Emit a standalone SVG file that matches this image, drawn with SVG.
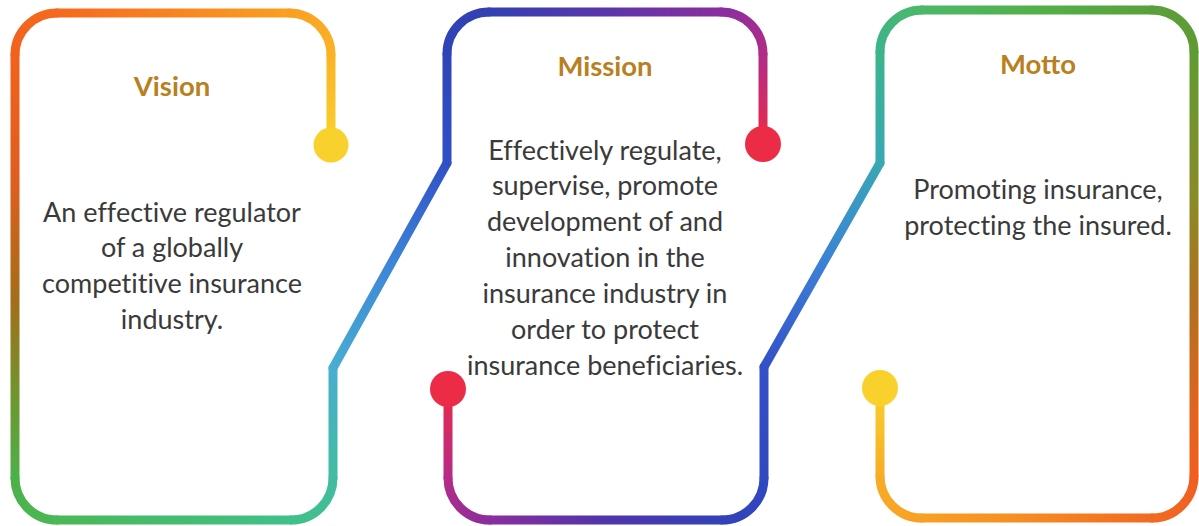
<svg xmlns="http://www.w3.org/2000/svg" width="1199" height="526" viewBox="0 0 1199 526">
  <style>
    .ln { fill: none; stroke-width: 9; stroke-linecap: round; }
    .title { font-family: Lato, "Open Sans", sans-serif; font-weight: 700; font-size: 27.5px; fill: #B8801E; text-anchor: middle; }
    .body { font-family: Lato, "Open Sans", sans-serif; font-size: 27px; fill: #3A3A3A; text-anchor: middle; font-variant-ligatures: none; font-feature-settings: "liga" 0; }
  </style>
  <defs>
    <!-- path A: Vision dot -> Vision frame -> link -> Mission top -> Mission dot -->
    <linearGradient id="a1" gradientUnits="userSpaceOnUse" x1="331" y1="145" x2="331" y2="55"><stop offset="0" stop-color="#F8D12C"/><stop offset="1" stop-color="#FBB326"/></linearGradient>
    <linearGradient id="a2" gradientUnits="userSpaceOnUse" x1="331" y1="55" x2="289" y2="13"><stop offset="0" stop-color="#FBB326"/><stop offset="1" stop-color="#F9A022"/></linearGradient>
    <linearGradient id="a3" gradientUnits="userSpaceOnUse" x1="289" y1="13" x2="57" y2="13"><stop offset="0" stop-color="#F9A022"/><stop offset="1" stop-color="#F5691E"/></linearGradient>
    <linearGradient id="a4" gradientUnits="userSpaceOnUse" x1="57" y1="13" x2="15" y2="55"><stop offset="0" stop-color="#F5691E"/><stop offset="1" stop-color="#F1621E"/></linearGradient>
    <linearGradient id="a5" gradientUnits="userSpaceOnUse" x1="15" y1="55" x2="15" y2="478">
      <stop offset="0" stop-color="#F1621E"/><stop offset="0.3" stop-color="#DE5E1E"/><stop offset="0.58" stop-color="#A26E1A"/><stop offset="0.82" stop-color="#6C9830"/><stop offset="1" stop-color="#4CB04A"/>
    </linearGradient>
    <linearGradient id="a6" gradientUnits="userSpaceOnUse" x1="15" y1="478" x2="57" y2="520"><stop offset="0" stop-color="#4CB04A"/><stop offset="1" stop-color="#4AB855"/></linearGradient>
    <linearGradient id="a7" gradientUnits="userSpaceOnUse" x1="57" y1="520" x2="291" y2="520"><stop offset="0" stop-color="#4AB855"/><stop offset="1" stop-color="#40C08A"/></linearGradient>
    <linearGradient id="a8" gradientUnits="userSpaceOnUse" x1="291" y1="520" x2="333" y2="478"><stop offset="0" stop-color="#40C08A"/><stop offset="1" stop-color="#42BCA0"/></linearGradient>
    <linearGradient id="a9" gradientUnits="userSpaceOnUse" x1="333" y1="478" x2="333" y2="368"><stop offset="0" stop-color="#42BCA0"/><stop offset="1" stop-color="#48AED0"/></linearGradient>
    <linearGradient id="a10" gradientUnits="userSpaceOnUse" x1="333" y1="368" x2="447" y2="163"><stop offset="0" stop-color="#48AED0"/><stop offset="0.5" stop-color="#3E86D8"/><stop offset="1" stop-color="#3050C6"/></linearGradient>
    <linearGradient id="a11" gradientUnits="userSpaceOnUse" x1="447" y1="163" x2="447" y2="54"><stop offset="0" stop-color="#3050C6"/><stop offset="1" stop-color="#2F44B8"/></linearGradient>
    <linearGradient id="a12" gradientUnits="userSpaceOnUse" x1="447" y1="54" x2="489" y2="12"><stop offset="0" stop-color="#2F44B8"/><stop offset="1" stop-color="#3340B2"/></linearGradient>
    <linearGradient id="a13" gradientUnits="userSpaceOnUse" x1="489" y1="12" x2="721" y2="12"><stop offset="0" stop-color="#3340B2"/><stop offset="0.5" stop-color="#5A36AA"/><stop offset="1" stop-color="#8A2E9E"/></linearGradient>
    <linearGradient id="a14" gradientUnits="userSpaceOnUse" x1="721" y1="12" x2="763" y2="54"><stop offset="0" stop-color="#8A2E9E"/><stop offset="1" stop-color="#B02C88"/></linearGradient>
    <linearGradient id="a15" gradientUnits="userSpaceOnUse" x1="763" y1="54" x2="763" y2="144"><stop offset="0" stop-color="#B02C88"/><stop offset="1" stop-color="#EC2A48"/></linearGradient>

    <!-- path B: Mission dot -> Mission bottom -> link -> Motto frame -> Motto dot -->
    <linearGradient id="b1" gradientUnits="userSpaceOnUse" x1="448" y1="389" x2="448" y2="478"><stop offset="0" stop-color="#EC2A48"/><stop offset="1" stop-color="#B42C86"/></linearGradient>
    <linearGradient id="b2" gradientUnits="userSpaceOnUse" x1="448" y1="478" x2="490" y2="520"><stop offset="0" stop-color="#B42C86"/><stop offset="1" stop-color="#8A2E9E"/></linearGradient>
    <linearGradient id="b3" gradientUnits="userSpaceOnUse" x1="490" y1="520" x2="722" y2="520"><stop offset="0" stop-color="#8A2E9E"/><stop offset="0.5" stop-color="#5034AC"/><stop offset="1" stop-color="#3342B8"/></linearGradient>
    <linearGradient id="b4" gradientUnits="userSpaceOnUse" x1="722" y1="520" x2="764" y2="478"><stop offset="0" stop-color="#3342B8"/><stop offset="1" stop-color="#3048C0"/></linearGradient>
    <linearGradient id="b5" gradientUnits="userSpaceOnUse" x1="764" y1="478" x2="764" y2="367"><stop offset="0" stop-color="#3048C0"/><stop offset="1" stop-color="#3450C8"/></linearGradient>
    <linearGradient id="b6" gradientUnits="userSpaceOnUse" x1="764" y1="367" x2="880" y2="163"><stop offset="0" stop-color="#3450C8"/><stop offset="0.5" stop-color="#3C80D6"/><stop offset="1" stop-color="#38A8B4"/></linearGradient>
    <linearGradient id="b7" gradientUnits="userSpaceOnUse" x1="880" y1="163" x2="880" y2="52"><stop offset="0" stop-color="#38A8B4"/><stop offset="1" stop-color="#3DB48C"/></linearGradient>
    <linearGradient id="b8" gradientUnits="userSpaceOnUse" x1="880" y1="52" x2="922" y2="10"><stop offset="0" stop-color="#3DB48C"/><stop offset="1" stop-color="#4BB868"/></linearGradient>
    <linearGradient id="b9" gradientUnits="userSpaceOnUse" x1="922" y1="10" x2="1152" y2="10"><stop offset="0" stop-color="#4BB868"/><stop offset="0.5" stop-color="#52B048"/><stop offset="1" stop-color="#5AA03A"/></linearGradient>
    <linearGradient id="b10" gradientUnits="userSpaceOnUse" x1="1152" y1="10" x2="1194" y2="52"><stop offset="0" stop-color="#5AA03A"/><stop offset="1" stop-color="#609A34"/></linearGradient>
    <linearGradient id="b11" gradientUnits="userSpaceOnUse" x1="1194" y1="52" x2="1194" y2="476">
      <stop offset="0" stop-color="#609A34"/><stop offset="0.35" stop-color="#8A8A28"/><stop offset="0.58" stop-color="#B07020"/><stop offset="0.85" stop-color="#E06520"/><stop offset="1" stop-color="#F05E22"/>
    </linearGradient>
    <linearGradient id="b12" gradientUnits="userSpaceOnUse" x1="1194" y1="476" x2="1152" y2="518"><stop offset="0" stop-color="#F05E22"/><stop offset="1" stop-color="#F26A22"/></linearGradient>
    <linearGradient id="b13" gradientUnits="userSpaceOnUse" x1="1152" y1="518" x2="922" y2="518"><stop offset="0" stop-color="#F26A22"/><stop offset="0.6" stop-color="#F68E22"/><stop offset="1" stop-color="#F8A024"/></linearGradient>
    <linearGradient id="b14" gradientUnits="userSpaceOnUse" x1="922" y1="518" x2="880" y2="476"><stop offset="0" stop-color="#F8A024"/><stop offset="1" stop-color="#F8AC26"/></linearGradient>
    <linearGradient id="b15" gradientUnits="userSpaceOnUse" x1="880" y1="476" x2="880" y2="388"><stop offset="0" stop-color="#F8AC26"/><stop offset="1" stop-color="#F8D12C"/></linearGradient>
  </defs>

  <rect width="1199" height="526" fill="#FFFFFF"/>

  <!-- frame lines, drawn piece by piece so the colour runs along the path -->
  <g id="connectors">
    <g id="line-a">
      <path class="ln" stroke="url(#a1)" d="M331 145 V55"/>
      <path class="ln" stroke="url(#a2)" d="M331 55 A42 42 0 0 0 289 13"/>
      <path class="ln" stroke="url(#a3)" d="M289 13 H57"/>
      <path class="ln" stroke="url(#a4)" d="M57 13 A42 42 0 0 0 15 55"/>
      <path class="ln" stroke="url(#a5)" d="M15 55 V478"/>
      <path class="ln" stroke="url(#a6)" d="M15 478 A42 42 0 0 0 57 520"/>
      <path class="ln" stroke="url(#a7)" d="M57 520 H291"/>
      <path class="ln" stroke="url(#a8)" d="M291 520 A42 42 0 0 0 333 478"/>
      <path class="ln" stroke="url(#a9)" d="M333 478 V368"/>
      <path class="ln" stroke="url(#a10)" d="M333 368 L447 163"/>
      <path class="ln" stroke="url(#a11)" d="M447 163 V54"/>
      <path class="ln" stroke="url(#a12)" d="M447 54 A42 42 0 0 1 489 12"/>
      <path class="ln" stroke="url(#a13)" d="M489 12 H721"/>
      <path class="ln" stroke="url(#a14)" d="M721 12 A42 42 0 0 1 763 54"/>
      <path class="ln" stroke="url(#a15)" d="M763 54 V144"/>
    </g>
    <g id="line-b">
      <path class="ln" stroke="url(#b1)" d="M448 389 V478"/>
      <path class="ln" stroke="url(#b2)" d="M448 478 A42 42 0 0 0 490 520"/>
      <path class="ln" stroke="url(#b3)" d="M490 520 H722"/>
      <path class="ln" stroke="url(#b4)" d="M722 520 A42 42 0 0 0 764 478"/>
      <path class="ln" stroke="url(#b5)" d="M764 478 V367"/>
      <path class="ln" stroke="url(#b6)" d="M764 367 L880 163"/>
      <path class="ln" stroke="url(#b7)" d="M880 163 V52"/>
      <path class="ln" stroke="url(#b8)" d="M880 52 A42 42 0 0 1 922 10"/>
      <path class="ln" stroke="url(#b9)" d="M922 10 H1152"/>
      <path class="ln" stroke="url(#b10)" d="M1152 10 A42 42 0 0 1 1194 52"/>
      <path class="ln" stroke="url(#b11)" d="M1194 52 V476"/>
      <path class="ln" stroke="url(#b12)" d="M1194 476 A42 42 0 0 1 1152 518"/>
      <path class="ln" stroke="url(#b13)" d="M1152 518 H922"/>
      <path class="ln" stroke="url(#b14)" d="M922 518 A42 42 0 0 1 880 476"/>
      <path class="ln" stroke="url(#b15)" d="M880 476 V388"/>
    </g>
  </g>

  <g id="vision">
    <circle cx="331" cy="145" r="17.5" fill="#F9D12D"/>
    <text class="title" x="172" y="96">Vision</text>
    <text class="body" x="172" y="222">An effective regulator</text>
    <text class="body" x="172" y="257">of a globally</text>
    <text class="body" x="172" y="293">competitive insurance</text>
    <text class="body" x="172" y="329">industry.</text>
  </g>

  <g id="mission">
    <circle cx="763" cy="144" r="18" fill="#EC2B47"/>
    <circle cx="448" cy="389" r="18" fill="#EC2B47"/>
    <text class="title" x="605" y="76">Mission</text>
    <text class="body" x="605" y="160">Effectively regulate,</text>
    <text class="body" x="605" y="195">supervise, promote</text>
    <text class="body" x="605" y="231">development of and</text>
    <text class="body" x="605" y="267">innovation in the</text>
    <text class="body" x="605" y="303">insurance industry in</text>
    <text class="body" x="605" y="339">order to protect</text>
    <text class="body" x="605" y="375">insurance beneficiaries.</text>
  </g>

  <g id="motto">
    <circle cx="880" cy="388" r="18" fill="#F9D12D"/>
    <text class="title" x="1038" y="74">Motto</text>
    <text class="body" x="1038" y="199">Promoting insurance,</text>
    <text class="body" x="1038" y="235">protecting the insured.</text>
  </g>
</svg>
